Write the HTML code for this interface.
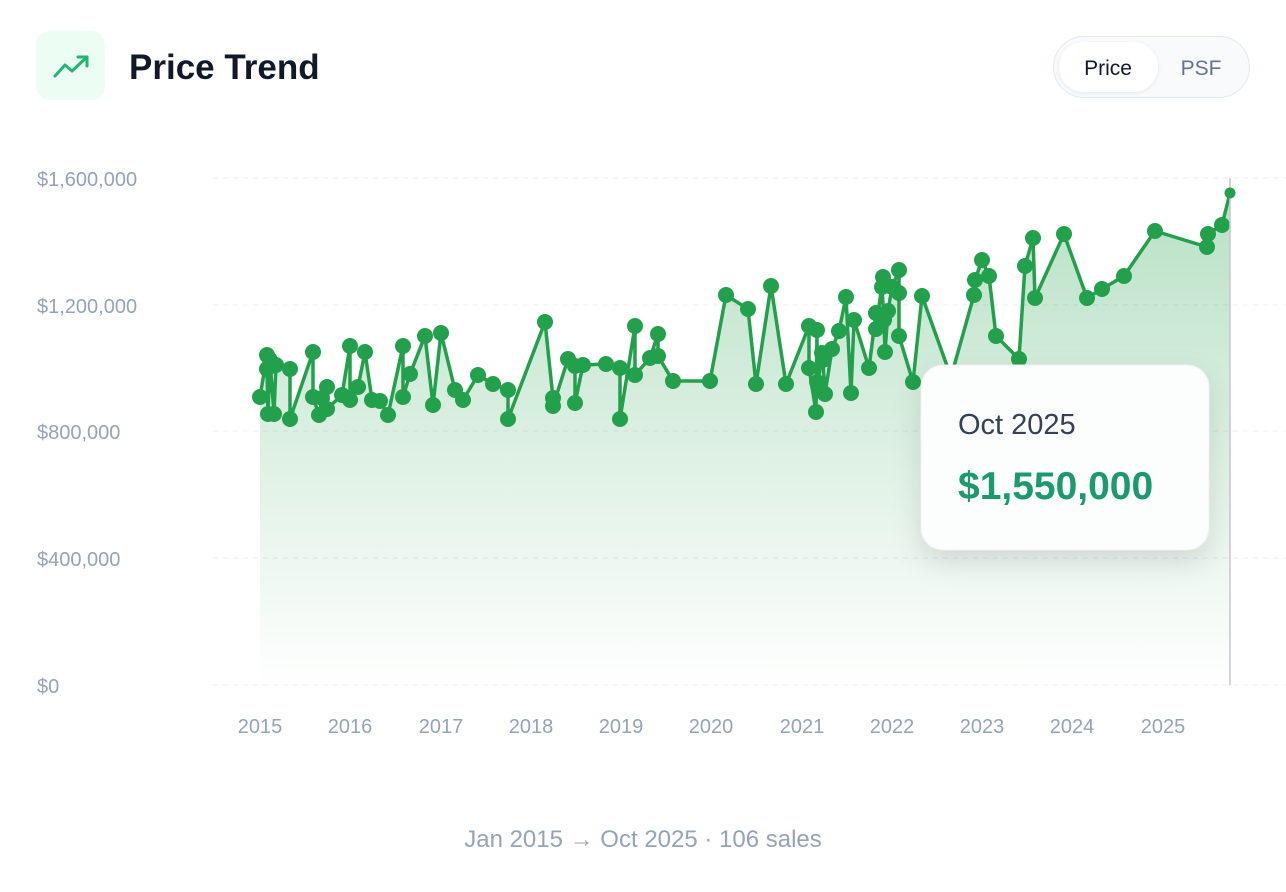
<!DOCTYPE html>
<html><head><meta charset="utf-8"><style>
body{margin:0;background:#fff;font-family:"Liberation Sans",sans-serif;}
</style></head><body>
<svg width="1286" height="892" xmlns="http://www.w3.org/2000/svg" style="display:block">
<defs>
<linearGradient id="g" x1="0" y1="0" x2="0" y2="1">
<stop offset="0" stop-color="#22a04b" stop-opacity="0.32"/>
<stop offset="1" stop-color="#22a04b" stop-opacity="0"/>
</linearGradient>
<filter id="sh" x="-30%" y="-30%" width="160%" height="170%"><feDropShadow dx="0" dy="12" stdDeviation="14" flood-color="#000" flood-opacity="0.12"/></filter>
</defs>
<rect x="36" y="31" width="69" height="69" rx="14" fill="#ecfdf3"/>
<polyline points="55,76 65,65 72,71 87,57" fill="none" stroke="#22b573" stroke-width="3" stroke-linecap="round" stroke-linejoin="round"/>
<polyline points="78,57 87,57 87,66" fill="none" stroke="#22b573" stroke-width="3" stroke-linecap="round" stroke-linejoin="round"/>
<text x="129" y="79" font-size="35" font-weight="bold" fill="#111827">Price Trend</text>
<rect x="1053.5" y="36.5" width="196" height="61" rx="30.5" fill="#f8fafc" stroke="#e2e8f0"/>
<rect x="1059" y="42" width="99" height="50" rx="25" fill="#fff" style="filter:drop-shadow(0 1px 2px rgba(0,0,0,0.08))"/>
<text x="1108" y="75" font-size="21" text-anchor="middle" fill="#111827">Price</text>
<text x="1201" y="75" font-size="21" text-anchor="middle" fill="#64748b">PSF</text>
<g stroke="#e8ecf0" stroke-dasharray="5 5" stroke-width="1">
<line x1="213" y1="178" x2="1286" y2="178"/><line x1="213" y1="305" x2="1286" y2="305"/><line x1="213" y1="431" x2="1286" y2="431"/><line x1="213" y1="558" x2="1286" y2="558"/><line x1="213" y1="685" x2="1286" y2="685"/>
</g>
<g font-size="20" fill="#94a3b8">
<text x="37" y="186">$1,600,000</text><text x="37" y="313">$1,200,000</text><text x="37" y="439">$800,000</text><text x="37" y="566">$400,000</text><text x="37" y="693">$0</text>
</g>
<g font-size="20" fill="#94a3b8" text-anchor="middle">
<text x="260" y="733">2015</text><text x="350" y="733">2016</text><text x="441" y="733">2017</text><text x="531" y="733">2018</text><text x="621" y="733">2019</text><text x="711" y="733">2020</text><text x="802" y="733">2021</text><text x="892" y="733">2022</text><text x="982" y="733">2023</text><text x="1072" y="733">2024</text><text x="1163" y="733">2025</text>
</g>
<path fill="url(#g)" d="M260,685 L260,397 L267,355 L267,369 L268,414 L270,360 L274,414 L276,365 L290,369 L290,419 L313,352 L313,397 L319,415 L322,398 L327,387 L327,409 L342,395 L350,346 L350,400 L358,387 L365,352 L372,400 L380,401 L388,415 L403,346 L403,397 L410,374 L425,336 L433,405 L441,333 L455,390 L463,400 L478,375 L493,384 L508,390 L508,419 L545,322 L553,398 L553,406 L568,359 L575,366 L575,403 L583,365 L606,364 L620,368 L620,419 L635,326 L635,375 L650,358 L658,334 L658,356 L673,381 L710,381 L726,295 L748,309 L756,384 L771,286 L786,384 L809,326 L809,368 L816,412 L817,330 L817,382 L818,385 L822,353 L823,360 L825,394 L832,349 L839,331 L846,297 L851,393 L854,320 L869,368 L876,313 L876,329 L883,277 L882,287 L884,320 L885,352 L888,311 L892,287 L899,270 L899,293 L899,336 L913,382 L922,296 L951,377 L974,295 L975,280 L982,260 L989,276 L996,336 L1019,359 L1025,266 L1033,238 L1035,298 L1064,234 L1087,298 L1102,289 L1124,276 L1155,231 L1207,247 L1208,234 L1222,225 L1230,193 L1230,685 Z"/>
<polyline fill="none" stroke="#22a04b" stroke-width="3.5" stroke-linejoin="round" points="260,397 267,355 267,369 268,414 270,360 274,414 276,365 290,369 290,419 313,352 313,397 319,415 322,398 327,387 327,409 342,395 350,346 350,400 358,387 365,352 372,400 380,401 388,415 403,346 403,397 410,374 425,336 433,405 441,333 455,390 463,400 478,375 493,384 508,390 508,419 545,322 553,398 553,406 568,359 575,366 575,403 583,365 606,364 620,368 620,419 635,326 635,375 650,358 658,334 658,356 673,381 710,381 726,295 748,309 756,384 771,286 786,384 809,326 809,368 816,412 817,330 817,382 818,385 822,353 823,360 825,394 832,349 839,331 846,297 851,393 854,320 869,368 876,313 876,329 883,277 882,287 884,320 885,352 888,311 892,287 899,270 899,293 899,336 913,382 922,296 951,377 974,295 975,280 982,260 989,276 996,336 1019,359 1025,266 1033,238 1035,298 1064,234 1087,298 1102,289 1124,276 1155,231 1207,247 1208,234 1222,225 1230,193"/>
<g fill="#22a04b">
<circle cx="260" cy="397" r="8"/><circle cx="267" cy="355" r="8"/><circle cx="267" cy="369" r="8"/><circle cx="268" cy="414" r="8"/><circle cx="270" cy="360" r="8"/><circle cx="274" cy="414" r="8"/><circle cx="276" cy="365" r="8"/><circle cx="290" cy="369" r="8"/><circle cx="290" cy="419" r="8"/><circle cx="313" cy="352" r="8"/><circle cx="313" cy="397" r="8"/><circle cx="319" cy="415" r="8"/><circle cx="322" cy="398" r="8"/><circle cx="327" cy="387" r="8"/><circle cx="327" cy="409" r="8"/><circle cx="342" cy="395" r="8"/><circle cx="350" cy="346" r="8"/><circle cx="350" cy="400" r="8"/><circle cx="358" cy="387" r="8"/><circle cx="365" cy="352" r="8"/><circle cx="372" cy="400" r="8"/><circle cx="380" cy="401" r="8"/><circle cx="388" cy="415" r="8"/><circle cx="403" cy="346" r="8"/><circle cx="403" cy="397" r="8"/><circle cx="410" cy="374" r="8"/><circle cx="425" cy="336" r="8"/><circle cx="433" cy="405" r="8"/><circle cx="441" cy="333" r="8"/><circle cx="455" cy="390" r="8"/><circle cx="463" cy="400" r="8"/><circle cx="478" cy="375" r="8"/><circle cx="493" cy="384" r="8"/><circle cx="508" cy="390" r="8"/><circle cx="508" cy="419" r="8"/><circle cx="545" cy="322" r="8"/><circle cx="553" cy="398" r="8"/><circle cx="553" cy="406" r="8"/><circle cx="568" cy="359" r="8"/><circle cx="575" cy="366" r="8"/><circle cx="575" cy="403" r="8"/><circle cx="583" cy="365" r="8"/><circle cx="606" cy="364" r="8"/><circle cx="620" cy="368" r="8"/><circle cx="620" cy="419" r="8"/><circle cx="635" cy="326" r="8"/><circle cx="635" cy="375" r="8"/><circle cx="650" cy="358" r="8"/><circle cx="658" cy="334" r="8"/><circle cx="658" cy="356" r="8"/><circle cx="673" cy="381" r="8"/><circle cx="710" cy="381" r="8"/><circle cx="726" cy="295" r="8"/><circle cx="748" cy="309" r="8"/><circle cx="756" cy="384" r="8"/><circle cx="771" cy="286" r="8"/><circle cx="786" cy="384" r="8"/><circle cx="809" cy="326" r="8"/><circle cx="809" cy="368" r="8"/><circle cx="816" cy="412" r="8"/><circle cx="817" cy="330" r="8"/><circle cx="817" cy="382" r="8"/><circle cx="818" cy="385" r="8"/><circle cx="822" cy="353" r="8"/><circle cx="823" cy="360" r="8"/><circle cx="825" cy="394" r="8"/><circle cx="832" cy="349" r="8"/><circle cx="839" cy="331" r="8"/><circle cx="846" cy="297" r="8"/><circle cx="851" cy="393" r="8"/><circle cx="854" cy="320" r="8"/><circle cx="869" cy="368" r="8"/><circle cx="876" cy="313" r="8"/><circle cx="876" cy="329" r="8"/><circle cx="883" cy="277" r="8"/><circle cx="882" cy="287" r="8"/><circle cx="884" cy="320" r="8"/><circle cx="885" cy="352" r="8"/><circle cx="888" cy="311" r="8"/><circle cx="892" cy="287" r="8"/><circle cx="899" cy="270" r="8"/><circle cx="899" cy="293" r="8"/><circle cx="899" cy="336" r="8"/><circle cx="913" cy="382" r="8"/><circle cx="922" cy="296" r="8"/><circle cx="951" cy="377" r="8" fill="#e8f5ec"/><circle cx="974" cy="295" r="8"/><circle cx="975" cy="280" r="8"/><circle cx="982" cy="260" r="8"/><circle cx="989" cy="276" r="8"/><circle cx="996" cy="336" r="8"/><circle cx="1019" cy="359" r="8"/><circle cx="1025" cy="266" r="8"/><circle cx="1033" cy="238" r="8"/><circle cx="1035" cy="298" r="8"/><circle cx="1064" cy="234" r="8"/><circle cx="1087" cy="298" r="8"/><circle cx="1102" cy="289" r="8"/><circle cx="1124" cy="276" r="8"/><circle cx="1155" cy="231" r="8"/><circle cx="1207" cy="247" r="8"/><circle cx="1208" cy="234" r="8"/><circle cx="1222" cy="225" r="8"/>
</g>
<line x1="1230" y1="178" x2="1230" y2="685" stroke="#c4c8cc" stroke-width="1.5"/>
<circle cx="1230" cy="193" r="5.5" fill="#22a04b"/>
<rect x="921" y="365" width="288" height="185" rx="22" fill="#fcfdfd" stroke="#eef1f3" filter="url(#sh)"/>
<text x="958" y="434" font-size="29" fill="#334155">Oct 2025</text>
<text x="958" y="499" font-size="39" font-weight="bold" fill="#1d9a6c">$1,550,000</text>
<text x="643" y="847" font-size="24" fill="#94a3b8" text-anchor="middle">Jan 2015 → Oct 2025 · 106 sales</text>
</svg>
</body></html>
